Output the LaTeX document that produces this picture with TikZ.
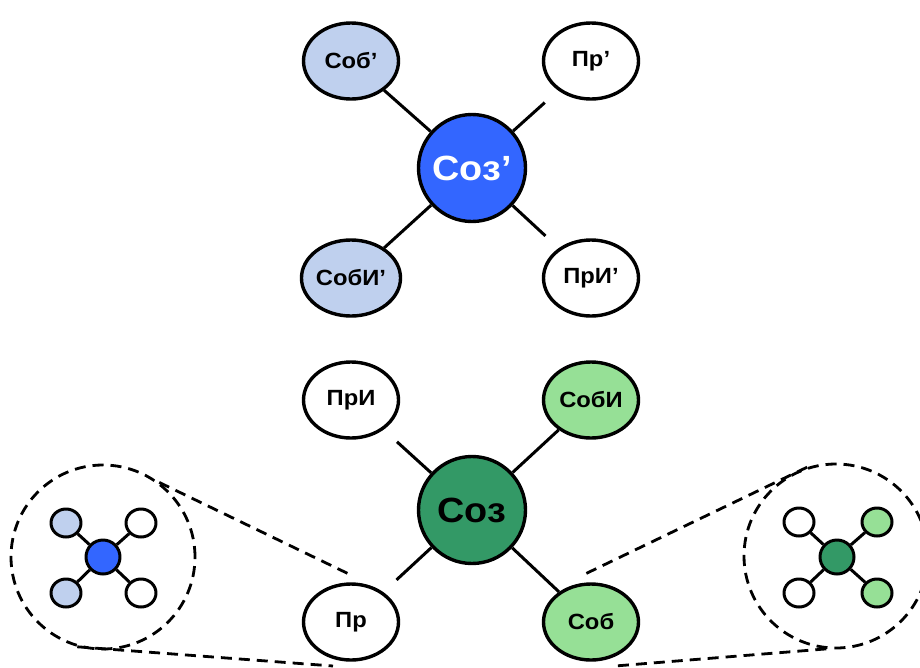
\documentclass[tikz,border=0pt]{standalone}
\usepackage{fontspec}
\setmainfont{Liberation Sans}
\newfontfamily\labelfont[FakeStretch=1.08]{Liberation Sans}
\usepackage{tikz}
\usetikzlibrary{shapes.geometric}

\definecolor{sobblue}{HTML}{BFD0EE}
\definecolor{sozblue}{HTML}{3366FF}
\definecolor{sobgreen}{HTML}{96E096}
\definecolor{sozgreen}{HTML}{339966}

\begin{document}
\begin{tikzpicture}[x=1pt,y=-1pt,line join=round,
  outer/.style={ellipse,draw,fill=white,line width=3.4pt,minimum width=95pt,minimum height=76pt,inner sep=0pt,font=\labelfont\fontsize{22}{22}\selectfont\bfseries},
  core/.style={circle,draw,line width=3.4pt,minimum size=107pt,inner sep=0pt,font=\labelfont\fontsize{35}{35}\selectfont\bfseries},
  mini/.style={ellipse,draw,fill=white,line width=3pt,minimum width=30pt,minimum height=28pt,inner sep=0pt},
  minicore/.style={circle,draw,line width=3pt,minimum size=34pt,inner sep=0pt},
  link/.style={line width=3pt},
  gap/.style={shorten >=18pt},
  lens/.style={line width=2.8pt,dash pattern=on 11pt off 7pt}]
  \useasboundingbox (0,0) rectangle (920,667);
  % lenses
  \node[circle,draw,lens,minimum size=184pt,inner sep=0pt] (lensL) at (103,557) {};
  \node[circle,draw,lens,minimum size=184pt,inner sep=0pt] (lensR) at (836,556) {};
  \coordinate (tipLa) at (353,576);
  \coordinate (tipLb) at (333,666);
  \coordinate (tipRa) at (583,575);
  \coordinate (tipRb) at (615,666);
  \draw[lens] (lensL.53) -- (tipLa);
  \draw[lens] (lensL.254) -- (tipLb);
  \draw[lens] (lensR.108) -- (tipRa);
  \draw[lens] (lensR.264) -- (tipRb);
  % upper group
  \node[core,fill=sozblue,text=white] (soz1) at (472,168) {Соз’};
  \node[outer,fill=sobblue] (sob1) at (351,61) {Соб’};
  \node[outer] (pr1) at (591,61) {Пр’};
  \node[outer,fill=sobblue] (sobi1) at (351,278) {СобИ’};
  \node[outer] (pri1) at (591,278) {ПрИ’};
  \draw[link] (soz1) -- (sob1);
  \draw[link,gap] (soz1) -- (pr1);
  \draw[link] (soz1) -- (sobi1);
  \draw[link,gap] (soz1) -- (pri1);
  % lower group
  \node[core,fill=sozgreen] (soz) at (472,510) {Соз};
  \node[outer] (pri) at (351,400) {ПрИ};
  \node[outer,fill=sobgreen] (sobi) at (591,400) {СобИ};
  \node[outer] (pr) at (351,622) {Пр};
  \node[outer,fill=sobgreen] (sob) at (591,622) {Соб};
  \draw[link,gap] (soz) -- (pri);
  \draw[link] (soz) -- (sobi);
  \draw[link,gap] (soz) -- (pr);
  \draw[link] (soz) -- (sob);
  % left lens content
  \node[minicore,fill=sozblue] (mL) at (103,557) {};
  \node[mini,fill=sobblue] (mLa) at (66,523) {};
  \node[mini] (mLb) at (141,523) {};
  \node[mini,fill=sobblue] (mLc) at (66,593) {};
  \node[mini] (mLd) at (141,593) {};
  \draw[link] (mL) -- (mLa);
  \draw[link] (mL) -- (mLb);
  \draw[link] (mL) -- (mLc);
  \draw[link] (mL) -- (mLd);
  % right lens content
  \node[minicore,fill=sozgreen] (mR) at (837,557) {};
  \node[mini] (mRa) at (799,522) {};
  \node[mini,fill=sobgreen] (mRb) at (877,522) {};
  \node[mini] (mRc) at (799,593) {};
  \node[mini,fill=sobgreen] (mRd) at (877,593) {};
  \draw[link] (mR) -- (mRa);
  \draw[link] (mR) -- (mRb);
  \draw[link] (mR) -- (mRc);
  \draw[link] (mR) -- (mRd);
\end{tikzpicture}
\end{document}
